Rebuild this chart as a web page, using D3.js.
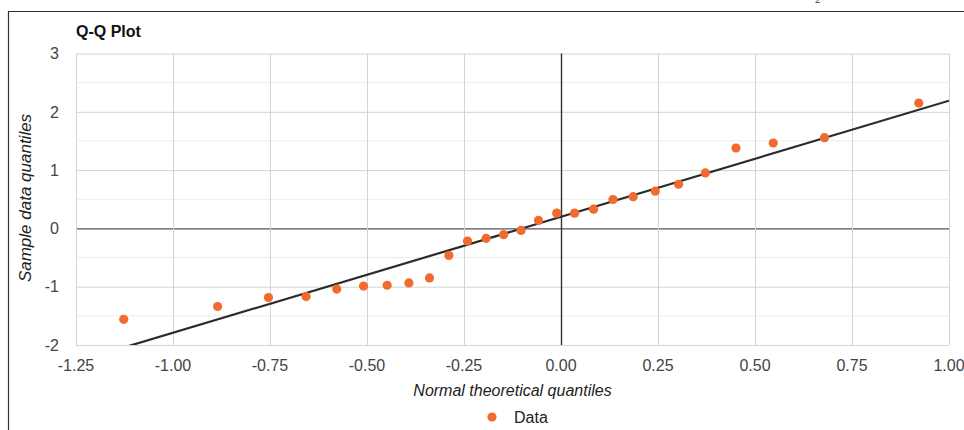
<!DOCTYPE html>
<html>
<head>
<meta charset="utf-8">
<script src="https://cdn.jsdelivr.net/npm/d3@7"></script>
<style>
	body { margin: 0; background: #fff; }
	svg { display: block; font-family: "Liberation Sans", Arial, sans-serif; }
</style>
</head>
<body>
<svg id="myChart" width="964" height="430"></svg>
<script>
// Theoretical quantiles (x) and sample quantiles (y)
const theoretical = [-1.127, -0.885, -0.754, -0.657, -0.578, -0.509, -0.448, -0.392, -0.339,
	-0.289, -0.241, -0.193, -0.148, -0.103, -0.058, -0.011, 0.035, 0.084, 0.134, 0.186,
	0.243, 0.303, 0.372, 0.451, 0.547, 0.679, 0.922];
const sample = [-1.56, -1.34, -1.185, -1.17, -1.04, -0.99, -0.975, -0.935, -0.85,
	-0.465, -0.217, -0.17, -0.108, -0.034, 0.137, 0.262, 0.262, 0.33, 0.496, 0.544,
	0.638, 0.757, 0.952, 1.379, 1.465, 1.556, 2.149];

// Fitted reference line
const fitSlope = 1.99;
const fitIntercept = 0.2;

// Tick labels
const xTicks = [-1.25, -1.0, -0.75, -0.5, -0.25, 0, 0.25, 0.5, 0.75, 1.0];
const yTicks = [-2, -1, 0, 1, 2, 3];
const yMinorTicks = [-1.5, -0.5, 0.5, 1.5, 2.5];

const svg = d3.select('#myChart');

// Plot area
const plotLeft = 76, plotRight = 949, plotTop = 53.5, plotBottom = 345;

const xScale = d3.scaleLinear().domain([-1.25, 1.0]).range([plotLeft, plotRight]);
const yScale = d3.scaleLinear().domain([-2, 3]).range([plotBottom, plotTop]);

const data = theoretical.map((x, i) => ({ x: x, y: sample[i] }));

// Plain hyphen for negatives, like the original
const fmtX = d => d3.format('.2f')(d).replace('\u2212', '-');

// Outer frame (only top and left edges are in view)
svg.append('path')
	.attr('d', 'M8.5,430 V11.5 H964')
	.attr('fill', 'none')
	.attr('stroke', '#333')
	.attr('stroke-width', 1.2);

// Cropped subscript peeking in at the top
svg.append('text')
	.attr('x', 815)
	.attr('y', 3)
	.attr('font-family', '"Liberation Serif", serif')
	.attr('font-size', 11)
	.attr('fill', '#333')
	.text('2');

svg.append('clipPath')
	.attr('id', 'plotClip')
	.append('rect')
	.attr('x', plotLeft).attr('y', plotTop)
	.attr('width', plotRight - plotLeft).attr('height', plotBottom - plotTop);

const grid = svg.append('g').attr('class', 'grid');

// Minor horizontal gridlines
grid.selectAll('.minor')
	.data(yMinorTicks)
	.enter().append('line')
	.attr('class', 'minor')
	.attr('x1', plotLeft).attr('x2', plotRight)
	.attr('y1', d => yScale(d)).attr('y2', d => yScale(d))
	.attr('stroke', '#ececec')
	.attr('stroke-width', 1);

// Major horizontal gridlines
grid.append('g')
	.attr('transform', `translate(${plotLeft},0)`)
	.call(d3.axisLeft(yScale).tickValues(yTicks).tickSize(-(plotRight - plotLeft)).tickFormat(''))
	.call(g => g.select('.domain').remove())
	.call(g => g.selectAll('line').attr('stroke', d => d === 0 ? '#555' : '#d4d4d4').attr('stroke-width', d => d === 0 ? 1.4 : 1));

// Vertical gridlines
grid.append('g')
	.attr('transform', `translate(0,${plotBottom})`)
	.call(d3.axisBottom(xScale).tickValues(xTicks).tickSize(-(plotBottom - plotTop)).tickFormat(''))
	.call(g => g.select('.domain').remove())
	.call(g => g.selectAll('line').attr('stroke', d => d === 0 ? '#333' : '#d4d4d4').attr('stroke-width', d => d === 0 ? 1.4 : 1));

// Put the zero lines on top of the other gridlines
grid.selectAll('.tick').filter(d => d === 0).each(function() { grid.node().appendChild(this.parentNode); });

// Y tick labels
svg.append('g')
	.selectAll('text')
	.data(yTicks)
	.enter().append('text')
	.attr('x', 59)
	.attr('y', d => yScale(d))
	.attr('dy', '0.36em')
	.attr('text-anchor', 'end')
	.attr('font-size', 16)
	.attr('fill', '#444')
	.text(d => d);

// X tick labels
svg.append('g')
	.selectAll('text')
	.data(xTicks)
	.enter().append('text')
	.attr('x', d => xScale(d))
	.attr('y', 371)
	.attr('text-anchor', 'middle')
	.attr('font-size', 16)
	.attr('fill', '#444')
	.text(fmtX);

// Fitted line
const domainX = xScale.domain();
svg.append('line')
	.attr('clip-path', 'url(#plotClip)')
	.attr('x1', xScale(domainX[0]))
	.attr('y1', yScale(fitIntercept + fitSlope * domainX[0]))
	.attr('x2', xScale(domainX[1]))
	.attr('y2', yScale(fitIntercept + fitSlope * domainX[1]))
	.attr('stroke', '#2b2b2b')
	.attr('stroke-width', 2.2);

// Data points
svg.append('g')
	.selectAll('circle')
	.data(data)
	.enter().append('circle')
	.attr('cx', d => xScale(d.x))
	.attr('cy', d => yScale(d.y))
	.attr('r', 4.6)
	.attr('fill', '#f26a2e');

// Title
svg.append('text')
	.attr('x', 76)
	.attr('y', 37)
	.attr('font-size', 16)
	.attr('font-weight', 'bold')
	.attr('fill', '#111')
	.text('Q-Q Plot');

// Axis titles
svg.append('text')
	.attr('x', (plotLeft + plotRight) / 2)
	.attr('y', 396)
	.attr('text-anchor', 'middle')
	.attr('font-size', 16)
	.attr('font-style', 'italic')
	.attr('fill', '#222')
	.text('Normal theoretical quantiles');

svg.append('text')
	.attr('transform', 'translate(31,198) rotate(-90)')
	.attr('text-anchor', 'middle')
	.attr('font-size', 17)
	.attr('font-style', 'italic')
	.attr('fill', '#222')
	.text('Sample data quantiles');

// Legend
const legend = svg.append('g').attr('transform', 'translate(492,417)');
legend.append('circle')
	.attr('r', 4.6)
	.attr('fill', '#f26a2e');
legend.append('text')
	.attr('x', 22)
	.attr('dy', '0.36em')
	.attr('font-size', 16)
	.attr('fill', '#222')
	.text('Data');
</script>
</body>
</html>
